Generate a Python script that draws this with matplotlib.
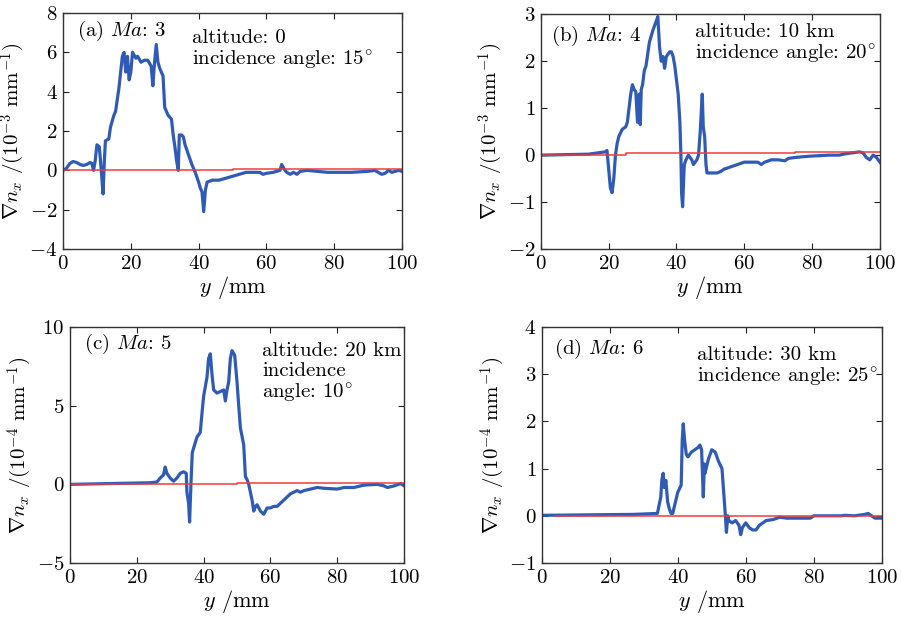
import matplotlib
matplotlib.use('Agg')
import matplotlib.pyplot as plt

plt.rcParams['font.family'] = 'serif'
plt.rcParams['font.serif'] = ['cmr10']
plt.rcParams['mathtext.fontset'] = 'cm'
plt.rcParams['axes.formatter.use_mathtext'] = True
plt.rcParams['axes.unicode_minus'] = True

# (a) Ma 3, unit 1e-3 mm^-1
xa = [0, 1, 2, 3, 4, 5, 6, 7, 8, 8.5, 9, 9.5, 10, 10.7, 11, 11.5, 11.8, 12.2, 12.5, 13.5,
      14, 15, 15.5, 16, 16.5, 17, 17.5, 18, 18.5, 19, 19.5, 20, 20.5, 21.5, 22, 23, 24, 25,
      26, 26.5, 27, 27.5, 28, 28.5, 29.5, 30, 31, 32, 32.5, 33, 33.5, 34, 34.3, 35, 35.5,
      36, 37, 38, 39, 40, 40.5, 41, 41.5, 42, 42.5, 44, 46, 48, 50, 52, 54, 56, 58, 59, 60,
      62, 63, 64, 64.5, 65.5, 66, 67, 68, 69, 70, 72, 75, 78, 80, 85, 90, 92, 94, 95, 96,
      97, 99, 100]
ya = [0.0, 0.1, 0.35, 0.45, 0.4, 0.3, 0.25, 0.3, 0.4, 0.35, 0.0, 0.5, 1.3, 1.2, 0.6, -0.5,
      -1.2, 0.5, 1.5, 1.6, 2.2, 2.8, 3.0, 3.6, 4.2, 5.0, 5.8, 6.0, 5.0, 5.8, 4.6, 5.0, 6.0,
      5.7, 5.8, 5.5, 5.6, 5.6, 5.3, 4.3, 5.5, 6.4, 5.5, 5.2, 4.8, 3.2, 2.8, 2.6, 1.8, 1.2,
      0.5, 0.0, 1.8, 1.8, 1.7, 1.3, 0.8, 0.3, -0.1, -0.6, -0.9, -1.1, -2.1, -1.0, -0.6,
      -0.5, -0.5, -0.4, -0.3, -0.2, -0.1, -0.1, -0.1, -0.2, -0.15, -0.1, -0.05, 0.0, 0.3,
      0.0, -0.1, -0.2, -0.1, -0.2, -0.05, 0.0, -0.05, -0.1, -0.1, -0.1, -0.05, 0.0, -0.2,
      -0.15, 0.0, -0.1, 0.0, -0.05]
ra_x = [0, 50, 50, 100]
ra_y = [0, 0, 0.07, 0.07]

# (b) Ma 4, unit 1e-3 mm^-1
xb = [0, 14, 19, 19.5, 20, 20.5, 21, 21.5, 22, 22.5, 23, 24, 25, 25.5, 26, 26.5, 27, 27.5,
      28, 28.5, 29, 29.3, 29.6, 30, 30.5, 31, 32, 33, 34, 34.5, 35, 35.5, 36, 36.5, 37, 38,
      38.5, 39, 39.5, 40, 40.5, 41, 41.3, 41.5, 41.8, 42.3, 42.8, 43.5, 44, 44.5, 45, 45.5,
      46, 46.5, 47, 47.3, 47.6, 47.9, 48.3, 48.7, 49, 50, 52, 53, 54, 56, 58, 60, 62, 64,
      65, 66, 68, 70, 72, 73, 75, 78, 80, 85, 88, 90, 92, 94, 95, 96, 97, 98, 99, 100]
yb = [0.0, 0.02, 0.07, 0.1, -0.3, -0.7, -0.8, -0.5, 0.0, 0.25, 0.4, 0.55, 0.6, 0.7, 1.0,
      1.3, 1.5, 1.4, 1.35, 0.7, 1.3, 0.65, 1.4, 1.5, 1.8, 1.9, 2.4, 2.65, 2.85, 2.95, 2.3,
      2.0, 2.1, 1.85, 2.1, 2.2, 2.2, 2.1, 1.9, 1.6, 1.3, 0.7, 0.0, -0.8, -1.1, -0.2, -0.1,
      0.0, -0.05, -0.1, -0.2, -0.15, -0.1, 0.0, 0.5, 0.9, 1.3, 0.6, 0.4, -0.2, -0.38, -0.38,
      -0.38, -0.35, -0.3, -0.25, -0.2, -0.15, -0.15, -0.15, -0.2, -0.15, -0.1, -0.1, -0.12,
      -0.07, -0.05, -0.03, -0.02, 0.0, 0.0, 0.03, 0.05, 0.07, 0.05, -0.05, -0.1, 0.0, -0.05,
      -0.15]
rb_x = [0, 25, 25, 75, 75, 100]
rb_y = [0, 0, 0.035, 0.035, 0.07, 0.07]

# (c) Ma 5, unit 1e-4 mm^-1
xc = [0, 24, 26, 27, 28, 28.5, 29, 30, 31, 32, 33, 34, 34.8, 35, 35.5, 35.8, 36.2, 36.6, 37,
      38, 39, 39.5, 40, 41, 41.5, 42, 42.5, 43, 44, 45, 46, 46.5, 47, 47.5, 48, 48.5, 49.3,
      50, 50.5, 51, 52, 52.5, 53, 53.5, 54, 54.5, 55, 55.5, 56, 57, 58, 59, 60, 61, 62, 64,
      66, 68, 69, 70, 72, 74, 76, 80, 82, 85, 88, 92, 94, 95, 97, 99, 100]
yc = [0.0, 0.1, 0.15, 0.4, 0.6, 1.1, 0.7, 0.4, 0.2, 0.4, 0.7, 0.8, 0.7, -0.5, -1.2, -2.4,
      0.0, 2.0, 2.3, 3.0, 3.3, 4.5, 5.6, 6.8, 8.0, 8.3, 7.0, 6.0, 5.8, 5.9, 6.0, 5.3, 6.0,
      6.5, 8.0, 8.5, 8.2, 6.5, 5.0, 3.6, 2.5, 0.5, 0.3, 0.0, -0.5, -1.0, -1.7, -1.4, -1.3,
      -1.7, -1.9, -1.5, -1.5, -1.4, -1.4, -1.0, -0.6, -0.4, -0.5, -0.4, -0.3, -0.2, -0.25,
      -0.3, -0.2, -0.2, -0.05, 0.0, -0.1, -0.2, -0.1, 0.05, -0.1]
rc_x = [0, 50, 50, 100]
rc_y = [0, 0, 0.1, 0.1]

# (d) Ma 6, unit 1e-4 mm^-1
xd = [0, 27, 34, 35, 35.3, 35.7, 36, 36.5, 37, 37.5, 38, 38.5, 39, 40, 41, 41.3, 41.6, 42,
      42.5, 43, 44, 45, 46, 46.5, 47, 47.5, 47.8, 48, 49, 50, 51, 52, 53, 53.5, 54, 54.3,
      54.7, 55, 56, 57, 58, 58.5, 59, 60, 61, 62, 63, 64, 66, 68, 70, 72, 75, 79, 80, 85,
      88, 89, 92, 95, 96, 97, 98, 100]
yd = [0.01, 0.03, 0.05, 0.4, 0.75, 0.9, 0.6, 0.75, 0.3, 0.15, 0.05, 0.05, 0.2, 0.5, 0.65,
      1.6, 1.95, 1.6, 1.3, 1.25, 1.35, 1.4, 1.45, 1.5, 1.4, 0.4, 1.1, 0.9, 1.2, 1.4, 1.35,
      1.15, 1.0, 0.5, 0.0, -0.35, 0.0, -0.1, -0.15, -0.1, -0.2, -0.4, -0.25, -0.15, -0.25,
      -0.3, -0.3, -0.2, -0.1, -0.08, -0.03, -0.05, -0.05, -0.05, 0.0, 0.0, 0.0, 0.01, 0.0,
      0.03, 0.05, 0.0, -0.05, -0.05]
rd_x = [4, 100]
rd_y = [0, 0]

deg = r'$^{\!\circ}$'

panels = [
    dict(pos=[0.0698, 0.599, 0.3754, 0.380], x=xa, y=ya, rx=ra_x, ry=ra_y, ylim=(-4, 8),
         yticks=[-4, -2, 0, 2, 4, 6, 8], exp='-3', tag='(a) $Ma$: 3',
         info='altitude: 0\nincidence angle: 15' + deg, tagpos=(0.04, 0.975),
         infopos=(0.38, 0.93)),
    dict(pos=[0.599, 0.599, 0.3754, 0.378], x=xb, y=yb, rx=rb_x, ry=rb_y, ylim=(-2, 3),
         yticks=[-2, -1, 0, 1, 2, 3], exp='-3', tag='(b) $Ma$: 4',
         info='altitude: 10 km\nincidence angle: 20' + deg, tagpos=(0.03, 0.958),
         infopos=(0.454, 0.962)),
    dict(pos=[0.0775, 0.0934, 0.370, 0.380], x=xc, y=yc, rx=rc_x, ry=rc_y, ylim=(-5, 10),
         yticks=[-5, 0, 5, 10], exp='-4', tag='(c) $Ma$: 5',
         info='altitude: 20 km\nincidence\nangle: 10' + deg, tagpos=(0.042, 0.978),
         infopos=(0.575, 0.935)),
    dict(pos=[0.600, 0.0934, 0.3765, 0.380], x=xd, y=yd, rx=rd_x, ry=rd_y, ylim=(-1, 4),
         yticks=[-1, 0, 1, 2, 3, 4], exp='-4', tag='(d) $Ma$: 6',
         info='altitude: 30 km\nincidence angle: 25' + deg, tagpos=(0.035, 0.958),
         infopos=(0.456, 0.92)),
]

fig = plt.figure(figsize=(9.03, 6.21), dpi=100)

for p in panels:
    ax = fig.add_axes(p['pos'])
    ax.plot(p['x'], p['y'], color='#2f5bb7', lw=2.3)
    ax.plot(p['rx'], p['ry'], color='#f03a3a', lw=1.1)
    ax.set_xlim(0, 100)
    ax.set_ylim(*p['ylim'])
    ax.set_xticks([0, 20, 40, 60, 80, 100])
    ax.set_yticks(p['yticks'])
    ax.tick_params(direction='in', top=True, right=True, length=4, width=0.8,
                   labelsize=15, pad=4, colors='#222222', labelcolor='black')
    for s in ax.spines.values():
        s.set_color('#333333')
        s.set_linewidth(1.0)
    ax.set_xlabel('$y$ /mm', fontsize=16, labelpad=1)
    ax.set_ylabel(r'$\nabla n_x$ /(10$^{%s}$ mm$^{-1}$)' % p['exp'], fontsize=15, labelpad=2)
    ax.text(p['tagpos'][0], p['tagpos'][1], p['tag'], transform=ax.transAxes,
            fontsize=15, va='top', ha='left')
    ax.text(p['infopos'][0], p['infopos'][1], p['info'], transform=ax.transAxes,
            fontsize=15, va='top', ha='left', linespacing=1.1)

fig.savefig('out.png', dpi=100)
